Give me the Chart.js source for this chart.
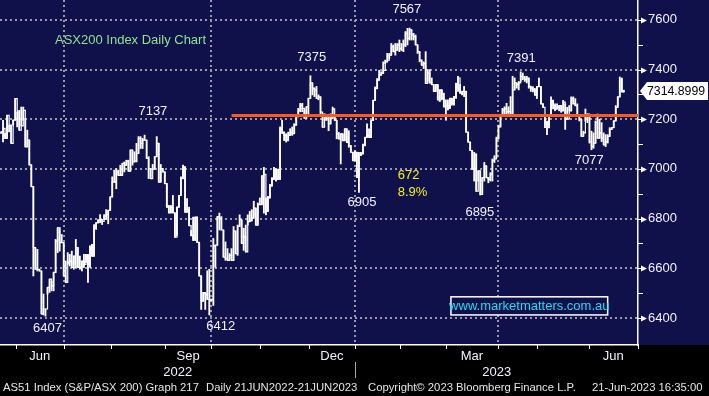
<!DOCTYPE html>
<html>
<head>
<meta charset="utf-8">
<script src="https://cdn.jsdelivr.net/npm/chart.js@4.4.0/dist/chart.umd.min.js"></script>
<style>
  html, body { margin: 0; padding: 0; background: #000; }
  canvas { display: block; }
</style>
</head>
<body>
<canvas id="chart" width="709" height="396"></canvas>
<script>
/* ASX200 daily bars, 21JUN2022 - 21JUN2023, Bloomberg style */

// daily bars, one value per trading day
const lows = [
  7143, 7109, 7123, 7123, 7149, 7103, 7176, 7196, 7169, 7156,
  7173, 7196, 7089, 7089, 7016, 6929, 6569, 6596, 6589, 6589,
  6416, 6412, 6407, 6496, 6503, 6509, 6509, 6583, 6663, 6669,
  6703, 6569, 6543, 6616, 6609, 6603, 6596, 6603, 6603, 6596,
  6589, 6603, 6623, 6543, 6603, 6649, 6649, 6756, 6783, 6783,
  6776, 6796, 6796,
  6779, 6833, 6887, 6947, 6920, 6974, 6974, 6974, 6988, 7015,
  6991, 6991, 7015, 7028, 7028, 7062, 7082, 7082, 7116, 7042,
  6961, 6961, 6999, 6999, 7049, 6947, 6947, 6988, 6941, 6846,
  6823, 6823, 6823, 6725, 6731, 6846, 6893, 6961, 6826, 6826,
  6772, 6731, 6711, 6711, 6704, 6569, 6434, 6468, 6434, 6475, 6412, 6468,
  6450, 6604, 6693, 6754, 6754, 6645, 6632, 6632, 6632, 6632,
  6632, 6659, 6652, 6768, 6700, 6672, 6666, 6774, 6788, 6791,
  6802, 6774, 6774, 6856, 6856, 6822, 6815, 6829, 6883, 6931,
  6958, 6951, 6958, 6958, 7142, 7114, 7108, 7114, 7135, 7135,
  7142, 7176, 7210, 7230, 7230, 7203, 7203, 7216, 7284, 7298, 7291, 7284, 7278,
  7222, 7168, 7195, 7195, 7154, 7181, 7202, 7195, 7121, 7121,
  7020, 7114, 7114, 7107, 7087, 7067, 7033, 7033, 6966, 6905,
  7053, 7060, 7094, 7127, 7127, 7127, 7195, 7276, 7323, 7357,
  7377, 7384, 7424, 7431, 7445, 7458, 7472, 7458, 7478, 7472,
  7478, 7472, 7492, 7499, 7519, 7519, 7519, 7499, 7465, 7431, 7418, 7404, 7344,
  7352, 7346, 7339, 7312, 7312, 7278, 7271, 7278, 7250, 7196,
  7237, 7244, 7257, 7257, 7284, 7312, 7305, 7298, 7291, 7148,
  7108, 7074, 6999, 6951, 6910, 6951, 6895, 6897, 6951, 6965,
  6944, 6951, 6951, 7026, 7046, 7121, 7169, 7216, 7216, 7210,
  7223, 7216, 7216, 7318, 7325, 7318, 7352, 7359, 7352, 7346, 7325, 7312,
  7310, 7297, 7283, 7331, 7262, 7248, 7166, 7138, 7166, 7214,
  7241, 7234, 7241, 7234, 7228, 7234, 7159, 7200, 7234, 7234,
  7262, 7255, 7214, 7193, 7131, 7131, 7193, 7186, 7104, 7077,
  7083, 7104, 7124, 7124, 7110, 7097, 7090, 7104, 7131, 7159,
  7166, 7193, 7248, 7290, 7310, 7310,
];

const highs = [
  7149, 7196, 7143, 7216, 7176, 7176, 7196, 7283, 7229, 7236,
  7249, 7249, 7203, 7156, 7116, 7016, 6929, 6683, 6676, 6596,
  6589, 6496, 6436, 6523, 6556, 6549, 6583, 6716, 6763, 6763,
  6736, 6703, 6629, 6663, 6656, 6669, 6649, 6716, 6683, 6649,
  6629, 6656, 6656, 6656, 6689, 6696, 6776, 6783, 6796, 6816,
  6796, 6816, 6836,
  6833, 6887, 6968, 6995, 7001, 6995, 7015, 7022, 7028, 7035,
  7035, 7076, 7076, 7069, 7103, 7130, 7130, 7123, 7136, 7116,
  7049, 7001, 7018, 7049, 7130, 7103, 7018, 7001, 6988, 6941,
  6853, 6853, 6893, 6823, 6846, 6893, 6968, 7015, 7008, 6880,
  6846, 6752, 6806, 6806, 6806, 6704, 6569, 6502, 6502, 6590, 6596, 6475,
  6720, 6693, 6808, 6822, 6808, 6754, 6706, 6679, 6659, 6679,
  6768, 6750, 6774, 6815, 6795, 6761, 6774, 6815, 6829, 6836,
  6870, 6842, 6863, 6883, 6972, 7006, 6883, 6890, 6938, 6965,
  7006, 6999, 6999, 7169, 7196, 7148, 7142, 7148, 7162, 7169,
  7182, 7216, 7244, 7264, 7264, 7237, 7250, 7284, 7375, 7346, 7325, 7332, 7298,
  7290, 7222, 7222, 7215, 7215, 7222, 7249, 7209, 7195, 7147,
  7141, 7141, 7161, 7161, 7154, 7094, 7067, 7073, 7067, 7067,
  7067, 7100, 7127, 7181, 7161, 7195, 7276, 7330, 7364, 7397,
  7391, 7431, 7438, 7465, 7465, 7505, 7499, 7505, 7505, 7519,
  7505, 7519, 7553, 7566, 7567, 7560, 7546, 7539, 7499, 7472, 7438, 7431, 7472,
  7400, 7400, 7366, 7339, 7339, 7339, 7318, 7318, 7305, 7278,
  7278, 7284, 7284, 7291, 7346, 7373, 7339, 7312, 7332, 7312,
  7148, 7108, 7074, 7067, 7060, 6992, 6992, 6965, 7026, 7012,
  6965, 6985, 7040, 7053, 7128, 7176, 7216, 7244, 7250, 7264,
  7250, 7291, 7373, 7366, 7346, 7352, 7391, 7386, 7373, 7373, 7366, 7332,
  7331, 7324, 7331, 7366, 7331, 7262, 7207, 7193, 7214, 7290,
  7276, 7262, 7262, 7255, 7255, 7276, 7262, 7248, 7255, 7290,
  7290, 7283, 7262, 7214, 7200, 7152, 7241, 7221, 7214, 7152,
  7145, 7193, 7221, 7200, 7186, 7145, 7138, 7138, 7166, 7166,
  7193, 7255, 7290, 7370, 7366, 7317,
];

const closes = [
  7149, 7163, 7123, 7216, 7176, 7103, 7196, 7283, 7229, 7156,
  7173, 7236, 7089, 7116, 7016, 6929, 6683, 6596, 6596, 6589,
  6416, 6436, 6436, 6523, 6556, 6529, 6583, 6709, 6763, 6703,
  6703, 6569, 6543, 6623, 6629, 6603, 6649, 6683, 6603, 6603,
  6629, 6616, 6649, 6616, 6689, 6649, 6763, 6783, 6792, 6796,
  6789, 6809, 6816,
  6833, 6887, 6947, 6947, 6988, 6974, 6974, 7022, 7015, 7031,
  6991, 7076, 7028, 7031, 7062, 7123, 7103, 7116, 7116, 7042,
  7001, 6961, 6999, 7049, 7103, 6947, 7001, 6988, 6941, 6846,
  6823, 6846, 6823, 6725, 6846, 6893, 6961, 7008, 6826, 6833,
  6772, 6731, 6718, 6806, 6704, 6569, 6468, 6502, 6495, 6475, 6475, 6475,
  6690, 6693, 6808, 6802, 6754, 6645, 6638, 6632, 6652, 6632,
  6750, 6659, 6768, 6795, 6700, 6727, 6666, 6788, 6791, 6802,
  6842, 6774, 6856, 6856, 6972, 6978, 6829, 6883, 6931, 6958,
  6999, 6958, 6958, 7162, 7148, 7135, 7114, 7135, 7148, 7142,
  7176, 7210, 7237, 7257, 7244, 7216, 7250, 7284, 7346, 7325, 7318, 7284, 7290,
  7229, 7168, 7209, 7202, 7181, 7209, 7242, 7195, 7141, 7121,
  7141, 7114, 7161, 7107, 7094, 7067, 7033, 7067, 6966, 7060,
  7060, 7094, 7127, 7134, 7127, 7195, 7276, 7323, 7357, 7377,
  7384, 7397, 7431, 7438, 7458, 7492, 7472, 7478, 7499, 7485,
  7478, 7499, 7546, 7526, 7560, 7539, 7532, 7499, 7472, 7438, 7418, 7424, 7344,
  7386, 7346, 7339, 7312, 7339, 7278, 7318, 7284, 7250, 7257,
  7244, 7284, 7264, 7291, 7339, 7366, 7305, 7312, 7312, 7148,
  7108, 7074, 6999, 7060, 6910, 6992, 6897, 6965, 7012, 6965,
  6958, 6978, 7033, 7040, 7121, 7169, 7216, 7237, 7244, 7230,
  7230, 7216, 7318, 7346, 7339, 7346, 7373, 7366, 7359, 7366, 7332, 7325,
  7317, 7297, 7331, 7331, 7262, 7248, 7186, 7166, 7214, 7276,
  7255, 7241, 7248, 7255, 7234, 7269, 7200, 7200, 7234, 7283,
  7262, 7255, 7214, 7200, 7131, 7145, 7214, 7221, 7110, 7090,
  7104, 7186, 7124, 7145, 7124, 7097, 7110, 7131, 7159, 7166,
  7193, 7248, 7290, 7359, 7310, 7314.8999,
];

// axis ticks
const yTicks = [6400, 6600, 6800, 7000, 7200, 7400, 7600];
const yMinorTicks = [6500, 6700, 6900, 7100, 7300, 7500];
// month starts, in trading-day units
const monthStarts = [7.4, 31.1, 54.4, 81.1, 103.8, 128.0, 152.2, 175.0, 197.2, 220.0, 245.7, 265.0, 290.7, 314.9];
const quarterStarts = [31.1, 103.8, 175.0, 245.7];
const monthLabels = ['Jun', 'Sep', 'Dec', 'Mar', 'Jun'];
const monthLabelAt = [19.2, 92.5, 163.6, 232.9, 302.8];
const yearLabels = ['2022', '2023'];
const yearSplit = 175.0;

// orange support line
const supportLevel = 7215;
const supportFrom = 114;

// peak / trough call-outs
const calloutText = ['7137', '7375', '7567', '7391', '6407', '6412', '6905', '6895', '7077'];
const calloutDay = [75.1, 153.7, 200.7, 257.3, 23.0, 108.7, 178.5, 236.8, 290.9];
const calloutLevel = [7232, 7447, 7642, 7445, 6356, 6366, 6865, 6825, 7034];

const moveText = ['672', '8.9%'];
const moveDay = 196.2;
const moveLevel = [6972, 6905];

const X_MIN = -0.5;
const X_MAX = 315;
const Y_MIN = 6291;
const Y_MAX = 7680;

const NAVY = '#10104a';
const GRID = '#9a9aa6';
const TEXT = '#f2f2ff';
const FONT = '"Liberation Sans", Arial, sans-serif';

const days = closes.map((_, i) => i);

function noPadding(scale) {
  scale.paddingTop = 0;
  scale.paddingBottom = 0;
  scale.paddingLeft = 0;
  scale.paddingRight = 0;
}

const bloombergFrame = {
  id: 'bloombergFrame',
  beforeDraw(chart) {
    const { ctx, chartArea: a, width, height } = chart;
    const x = chart.scales.x;
    const y = chart.scales.y;
    ctx.save();
    ctx.fillStyle = '#000';
    ctx.fillRect(0, 0, width, height);
    ctx.fillStyle = NAVY;
    ctx.fillRect(0, 0, width, a.bottom);

    ctx.strokeStyle = GRID;
    ctx.lineWidth = 2;
    ctx.setLineDash([2, 3]);
    ctx.beginPath();
    yTicks.forEach(v => {
      const py = Math.round(y.getPixelForValue(v));
      ctx.moveTo(a.left, py);
      ctx.lineTo(a.right, py);
    });
    quarterStarts.forEach(v => {
      const px = Math.round(x.getPixelForValue(v));
      ctx.moveTo(px, a.top);
      ctx.lineTo(px, a.bottom);
    });
    ctx.stroke();
    ctx.restore();
  },
  afterDraw(chart) {
    const { ctx, chartArea: a } = chart;
    const x = chart.scales.x;
    const y = chart.scales.y;
    ctx.save();

    // y axis arrows and minor ticks
    ctx.fillStyle = '#fff';
    ctx.strokeStyle = '#fff';
    ctx.lineWidth = 1;
    yTicks.forEach(v => {
      const py = Math.round(y.getPixelForValue(v)) + 0.5;
      ctx.beginPath();
      ctx.moveTo(a.right, py - 0.5);
      ctx.lineTo(a.right + 3, py - 0.5);
      ctx.lineTo(a.right + 3, py - 3);
      ctx.lineTo(a.right + 9, py);
      ctx.lineTo(a.right + 3, py + 3);
      ctx.lineTo(a.right + 3, py + 0.5);
      ctx.lineTo(a.right, py + 0.5);
      ctx.closePath();
      ctx.fill();
    });
    ctx.beginPath();
    yMinorTicks.forEach(v => {
      const py = Math.round(y.getPixelForValue(v)) + 0.5;
      ctx.moveTo(a.right, py);
      ctx.lineTo(a.right + 5, py);
    });
    // x axis month ticks
    monthStarts.forEach(v => {
      const px = Math.round(x.getPixelForValue(v)) + 0.5;
      ctx.moveTo(px, a.bottom);
      ctx.lineTo(px, a.bottom + 4);
    });
    ctx.stroke();

    // year row
    const split = Math.round(x.getPixelForValue(yearSplit)) + 0.5;
    ctx.strokeStyle = '#aaa';
    ctx.beginPath();
    ctx.moveTo(split, 362);
    ctx.lineTo(split, 378);
    ctx.stroke();
    ctx.font = '13px ' + FONT;
    ctx.fillStyle = TEXT;
    ctx.textAlign = 'center';
    ctx.textBaseline = 'middle';
    ctx.fillText(yearLabels[0], (a.left + split) / 2, 372);
    ctx.fillText(yearLabels[1], (split + a.right) / 2, 372);

    // call-outs
    calloutText.forEach((t, i) => {
      ctx.fillText(t, x.getPixelForValue(calloutDay[i]), y.getPixelForValue(calloutLevel[i]));
    });
    ctx.textAlign = 'left';
    ctx.fillStyle = '#f2f21e';
    moveText.forEach((t, i) => {
      ctx.fillText(t, x.getPixelForValue(moveDay), y.getPixelForValue(moveLevel[i]));
    });

    // title
    ctx.fillStyle = '#8fe38f';
    ctx.fillText('ASX200 Index Daily Chart', x.getPixelForValue(26.7), y.getPixelForValue(7519));

    // website box
    const bx0 = x.getPixelForValue(222.5), bx1 = x.getPixelForValue(300);
    const by0 = y.getPixelForValue(6485), by1 = y.getPixelForValue(6412);
    ctx.fillStyle = NAVY;
    ctx.fillRect(bx0, by0, bx1 - bx0, by1 - by0);
    ctx.strokeStyle = '#fff';
    ctx.lineWidth = 1.5;
    ctx.strokeRect(bx0, by0, bx1 - bx0, by1 - by0);
    ctx.fillStyle = '#22dcf2';
    ctx.textAlign = 'center';
    ctx.fillText('www.marketmatters.com.au', (bx0 + bx1) / 2, (by0 + by1) / 2 + 0.5);

    // last price tag
    const last = closes[closes.length - 1];
    const ly = Math.round(y.getPixelForValue(last));
    ctx.fillStyle = '#fff';
    ctx.beginPath();
    ctx.moveTo(a.right + 2, ly);
    ctx.lineTo(a.right + 9, ly - 9);
    ctx.lineTo(708, ly - 9);
    ctx.lineTo(708, ly + 9);
    ctx.lineTo(a.right + 9, ly + 9);
    ctx.closePath();
    ctx.fill();
    ctx.font = '12.3px ' + FONT;
    ctx.fillStyle = '#000';
    ctx.textAlign = 'left';
    ctx.fillText(last.toFixed(4), a.right + 9, ly + 0.5);

    // footer
    ctx.font = '11.3px ' + FONT;
    ctx.fillStyle = '#e6e6e6';
    ctx.fillText('AS51 Index (S&P/ASX 200) Graph 217', 3, 388);
    ctx.fillText('Daily 21JUN2022-21JUN2023', 206, 388);
    ctx.fillText('Copyright\u00a9 2023 Bloomberg Finance L.P.', 368, 388);
    ctx.fillText('21-Jun-2023 16:35:00', 592, 388);
    ctx.restore();
  },
};

new Chart(document.getElementById('chart'), {
  type: 'bar',
  data: {
    datasets: [
      {
        type: 'bar',
        data: days.map(i => ({ x: i, y: [lows[i], highs[i]] })),
        backgroundColor: '#fff',
        barThickness: 1.2,
        grouped: false,
        order: 2,
      },
      {
        type: 'line',
        data: days.map(i => ({ x: i, y: closes[i] })),
        stepped: true,
        borderColor: '#fff',
        borderWidth: 1.2,
        pointRadius: 0,
        order: 1,
      },
      {
        type: 'line',
        data: [{ x: supportFrom, y: supportLevel }, { x: X_MAX, y: supportLevel }],
        borderColor: '#ff5a1e',
        borderWidth: 3,
        pointRadius: 0,
        order: 0,
      },
    ],
  },
  options: {
    responsive: false,
    animation: false,
    layout: { padding: 0 },
    plugins: { legend: { display: false }, tooltip: { enabled: false } },
    scales: {
      x: {
        type: 'linear',
        min: X_MIN,
        max: X_MAX,
        offset: false,
        afterFit: s => { s.height = 51; noPadding(s); },
        afterBuildTicks: s => { s.ticks = monthLabelAt.map(v => ({ value: v })); },
        grid: { display: false, drawTicks: false },
        border: { display: true, color: '#fff', width: 1.5 },
        ticks: {
          autoSkip: false,
          maxRotation: 0,
          minRotation: 0,
          padding: 4,
          color: TEXT,
          font: { size: 13, family: FONT },
          callback: (v, i) => monthLabels[i],
        },
      },
      y: {
        position: 'right',
        min: Y_MIN,
        max: Y_MAX,
        afterFit: s => { s.width = 71; noPadding(s); },
        afterBuildTicks: s => { s.ticks = yTicks.map(v => ({ value: v })); },
        grid: { display: false, drawTicks: false },
        border: { display: true, color: '#fff', width: 1.5 },
        ticks: {
          padding: 10,
          color: TEXT,
          font: { size: 13, family: FONT },
          callback: v => String(v),
        },
      },
    },
  },
  plugins: [bloombergFrame],
});
</script>
</body>
</html>
